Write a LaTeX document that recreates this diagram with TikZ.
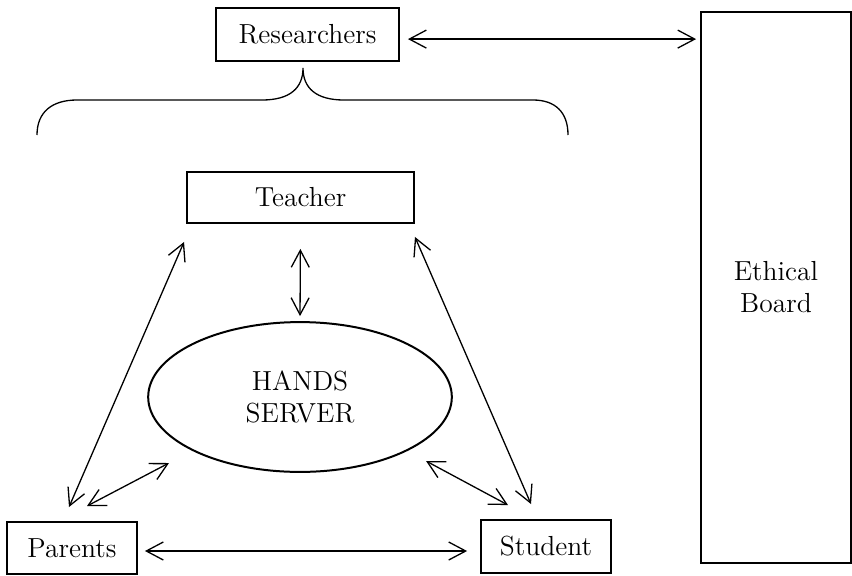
\documentclass[tikz,border=0pt]{standalone}
\usepackage{tikz}
\usetikzlibrary{arrows.meta,shapes.geometric}

\begin{document}
\begin{tikzpicture}[x=0.0176cm, y=-0.0176cm,
    every node/.style={font=\fontsize{13.8}{16}\selectfont, inner sep=0pt},
    box/.style={draw, line width=1pt, rectangle, minimum width=#1},
    conn/.style={line width=0.65pt, {Straight Barb[length=8.5pt,width=9pt]}-{Straight Barb[length=8.5pt,width=9pt]}}
    ]

            \useasboundingbox (0,0) rectangle (852,575);

            % boxes
            \node[box=91.6pt, minimum height=26.5pt] (researchers) at (307.5,34.5) {Researchers};
            \node[box=75pt, minimum height=276pt, align=center] (ethics) at (776,287.5) {Ethical\\Board};
            \node[box=113.6pt, minimum height=25.5pt] (teacher) at (300.5,197.5) {Teacher};
            \node[draw, line width=1pt, ellipse, minimum width=152pt, minimum height=75pt, align=center] (server) at (300,397) {HANDS\\SERVER};
            \node[box=65pt, minimum height=26pt] (parents) at (72,548) {Parents};
            \node[box=65pt, minimum height=26.5pt] (student) at (546,546.5) {Student};

            % brace under the researchers
            \draw[line width=0.65pt] (37,135) .. controls (37,112) and (52,100) .. (77,100) -- (262,100)
                .. controls (290,100) and (303,88) .. (303,68)
                .. controls (303,88) and (316,100) .. (344,100) -- (533,100)
                .. controls (555,100) and (568,112) .. (568,135);

            % links
            \draw[conn, shorten <=4pt, shorten >=2pt] ([yshift=-2.3pt]researchers.east) -- ([yshift=-2.3pt]researchers.east -| ethics.west);
            \draw[conn, shorten <=12.5pt, shorten >=2.5pt] (teacher.south) -- (server.north);
            \draw[conn] ([shift={(-2,18)}]teacher.south west) -- ([shift={(-3,-14)}]parents.north);
            \draw[conn] ([shift={(0,13)}]teacher.south east) -- ([shift={(-15,-15)}]student.north);
            \draw[conn] ([shift={(15,-15)}]parents.north) -- ([shift={(-131,66)}]server.center);
            \draw[conn] ([shift={(-38,-14)}]student.north) -- ([shift={(126,64)}]server.center);
            \draw[conn, shorten <=3.5pt, shorten >=6.5pt] ([yshift=-1.5pt]parents.east) -- ([yshift=-1.5pt]parents.east -| student.west);

\end{tikzpicture}
\end{document}
